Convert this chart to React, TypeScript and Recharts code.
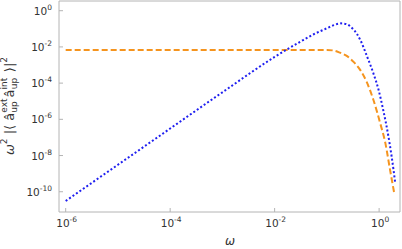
import { LineChart, Line, XAxis, YAxis, ReferenceArea } from 'recharts';

// omega grid and values (log-log)
const blueOmega = [1e-6, 1e-5, 1e-4, 1e-3, 1e-2, 0.0316, 0.056, 0.1, 0.141, 0.186, 0.24, 0.302, 0.38, 0.437, 0.575, 0.776, 0.977, 1.2, 1.51, 1.74, 2.04];
const blueValue = [3.1e-11, 3.1e-9, 3.1e-7, 3.1e-5, 2.8e-3, 2.0e-2, 5.0e-2, 0.107, 0.166, 0.2, 0.18, 0.112, 0.05, 0.024, 3.5e-3, 3.5e-4, 4.2e-5, 3.2e-6, 1.1e-7, 8.5e-9, 2.9e-10];

const orangeOmega = [1e-6, 1e-4, 1e-2, 0.1, 0.135, 0.178, 0.24, 0.324, 0.437, 0.575, 0.776, 1.05, 1.32, 1.62, 1.95];
const orangeValue = [6.8e-3, 6.8e-3, 6.8e-3, 6.8e-3, 6.3e-3, 4.8e-3, 3.2e-3, 1.5e-3, 5.2e-4, 1.2e-4, 1.2e-5, 6.0e-7, 4.7e-8, 1.6e-9, 8.1e-11];

const xTicks = [1e-6, 1e-4, 1e-2, 1];
const yTicks = [1e-10, 1e-8, 1e-6, 1e-4, 1e-2, 1];

const xDomain: [number, number] = [7.45e-7, 2.51];
const yDomain: [number, number] = [7.6e-12, 3.44];

const blueData = blueOmega.map((w, i) => ({ w, v: blueValue[i] }));
const orangeData = orangeOmega.map((w, i) => ({ w, v: orangeValue[i] }));

const FONT = 'DejaVu Sans, sans-serif';
const GRAY = '#b4b4b4';
const TEXT = '#333';

const exp = (v: number) => String(Math.round(Math.log10(v)));

function YTick(props: any) {
  const { x, y, payload } = props;
  return (
    <g>
      <line x1={x} x2={x + 4} y1={y} y2={y} stroke={GRAY} />
      <text x={x - 7} y={y + 4} textAnchor="end" fontFamily={FONT} fontSize={10.5} fill={TEXT}>
        10<tspan fontSize={7.5} dy={-5}>{exp(payload.value)}</tspan>
      </text>
    </g>
  );
}

function XTick(props: any) {
  const { x, y, payload } = props;
  return (
    <g>
      <line x1={x} x2={x} y1={y} y2={y - 4} stroke={GRAY} />
      <text x={x + 1} y={y + 15} textAnchor="middle" fontFamily={FONT} fontSize={10.5} fill={TEXT}>
        10<tspan fontSize={7.5} dy={-5}>{exp(payload.value)}</tspan>
      </text>
    </g>
  );
}

export default function App() {
  return (
    <div style={{ position: 'absolute', left: 0, top: 0, width: 402, height: 249 }}>
      <LineChart width={402} height={249} margin={{ top: 1, right: 2, bottom: 0, left: 0 }}>
        <XAxis
          dataKey="w"
          type="number"
          scale="log"
          domain={xDomain}
          allowDataOverflow
          ticks={xTicks}
          tick={<XTick />}
          tickLine={false}
          tickSize={0}
          tickMargin={0}
          axisLine={false}
          height={37}
        />
        <YAxis
          type="number"
          scale="log"
          domain={yDomain}
          allowDataOverflow
          ticks={yTicks}
          tick={<YTick />}
          tickLine={false}
          tickSize={0}
          tickMargin={0}
          axisLine={false}
          width={59}
        />
        <ReferenceArea
          x1={xDomain[0]}
          x2={xDomain[1]}
          y1={yDomain[0]}
          y2={yDomain[1]}
          fill="none"
          stroke={GRAY}
          strokeWidth={1}
        />
        <Line
          data={orangeData}
          dataKey="v"
          type="monotone"
          stroke="#f5941e"
          strokeWidth={2}
          strokeDasharray="6 3"
          dot={false}
          isAnimationActive={false}
        />
        <Line
          data={blueData}
          dataKey="v"
          type="monotone"
          stroke="#1f1ff0"
          strokeWidth={2}
          strokeDasharray="2 2.2"
          dot={false}
          isAnimationActive={false}
        />
      </LineChart>
      <svg width={402} height={249} style={{ position: 'absolute', left: 0, top: 0, pointerEvents: 'none' }}>
        <text x={230} y={245} textAnchor="middle" fontFamily={FONT} fontSize={12} fontStyle="italic" fill={TEXT}>
          ω
        </text>
        <g transform="translate(13.5,106) rotate(-90)">
          <text x={0} y={0} textAnchor="middle" fontFamily={FONT} fontSize={13} fill={TEXT}>
            <tspan fontStyle="italic">ω</tspan>
            <tspan fontSize={9} dy={-6.5}>2</tspan>
            <tspan dy={6.5}> |⟨ </tspan>
            <tspan>â</tspan>
            <tspan fontSize={9} dy={-6.5}>ext</tspan>
            <tspan fontSize={9} dx={-14.3} dy={10}>up</tspan>
            <tspan dx={4} dy={-3.5}>â</tspan>
            <tspan fontSize={9} dy={-6.5}>int</tspan>
            <tspan fontSize={9} dx={-11.5} dy={10}>up</tspan>
            <tspan dx={1.5} dy={-3.5}> ⟩|</tspan>
            <tspan fontSize={9} dy={-6.5}>2</tspan>
          </text>
        </g>
      </svg>
    </div>
  );
}
